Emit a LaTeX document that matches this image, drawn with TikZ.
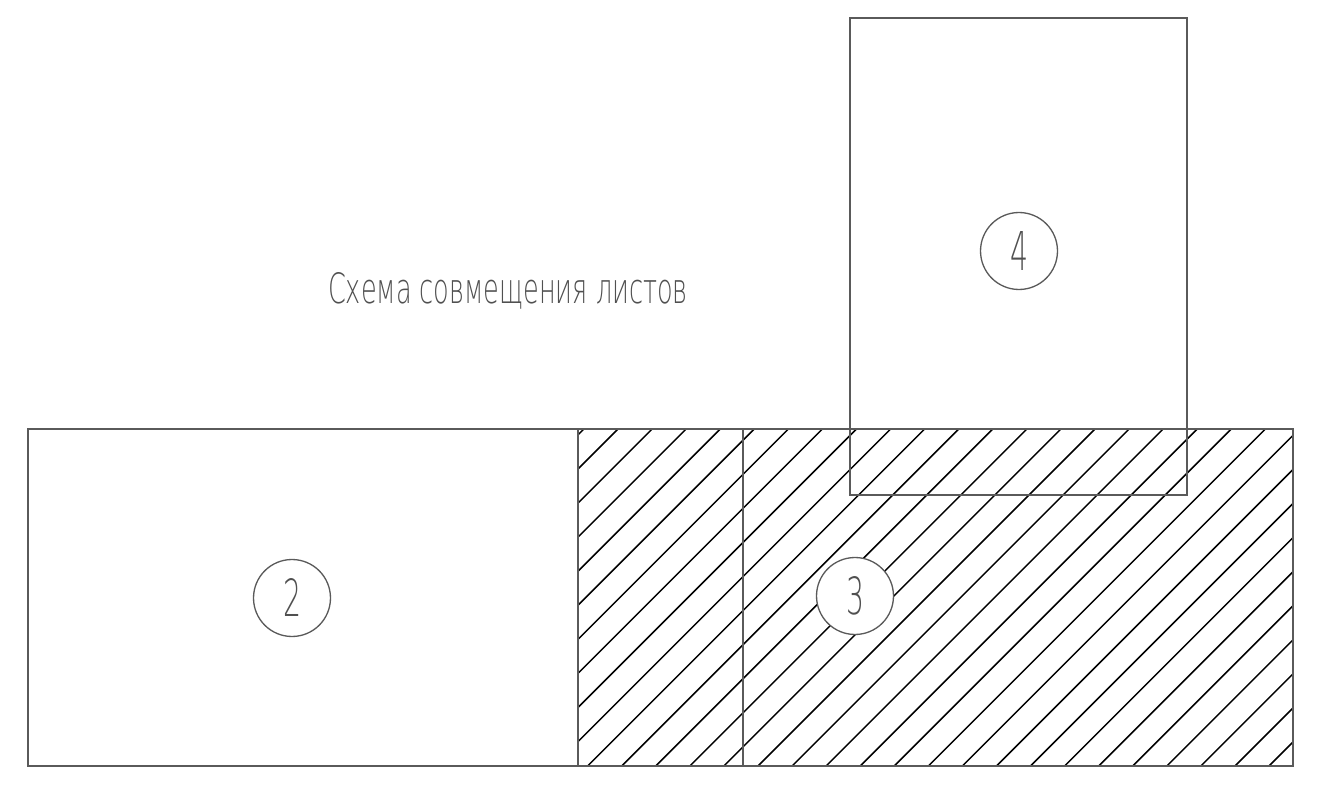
\documentclass[tikz,border=0pt]{standalone}
\usepackage{fontspec}
\IfFontExistsTF{DejaVu Sans ExtraLight}
  {\newfontfamily\gost{DejaVu Sans ExtraLight}}
  {\newfontfamily\gost{DejaVu Sans}}
\usepackage{graphicx}
\usetikzlibrary{positioning}
\definecolor{linegray}{HTML}{5A5A5A}
\definecolor{textgray}{HTML}{505050}

\begin{document}
\begin{tikzpicture}[x=0.02cm, y=-0.02cm, sheet/.style={draw=linegray, line width=0.75pt, inner sep=0pt, outer sep=0pt, anchor=north west}, hatchline/.style={black, line width=0.85pt}, numcircle/.style={draw=linegray, fill=white, line width=0.75pt, circle, minimum size=1.54cm, inner sep=0pt, text=textgray}]
\useasboundingbox (0,0) rectangle (1336,787);
% hatching of sheet 3
\node[sheet, draw=none, minimum width=14.3cm, minimum height=6.74cm] (hatcharea) at (578,429) {};
\begin{scope}
\clip (hatcharea.south west) rectangle (hatcharea.north east);
\foreach \k in {-2,...,31} {
  \pgfmathsetmacro\c{1047+34.07*\k}
  \draw[hatchline] ({\c-800},800) -- ({\c-400},400);
}
\end{scope}
% sheets
\node[sheet, minimum width=14.3cm, minimum height=6.74cm] (sheetB) at (28,429) {};
\node[sheet, minimum width=14.3cm, minimum height=6.74cm] (sheetC) at (578,429) {};
\node[sheet, minimum width=6.74cm, minimum height=9.54cm] (sheetD) at (850,18) {};
% numbers
\node[numcircle] (numB) at (292,598) {\resizebox{0.36cm}{0.76cm}{\gost 2}};
\node[numcircle] (numC) at (855,596) {\resizebox{0.36cm}{0.76cm}{\gost 3}};
\node[numcircle] (numD) at (1019,251) {\resizebox{0.36cm}{0.78cm}{\gost 4}};
% title
\node[text=textgray, inner sep=0pt] (title) at (508,291) {\resizebox{7.2cm}{0.62cm}{\gost Схема совмещения листов}};
\end{tikzpicture}
\end{document}
